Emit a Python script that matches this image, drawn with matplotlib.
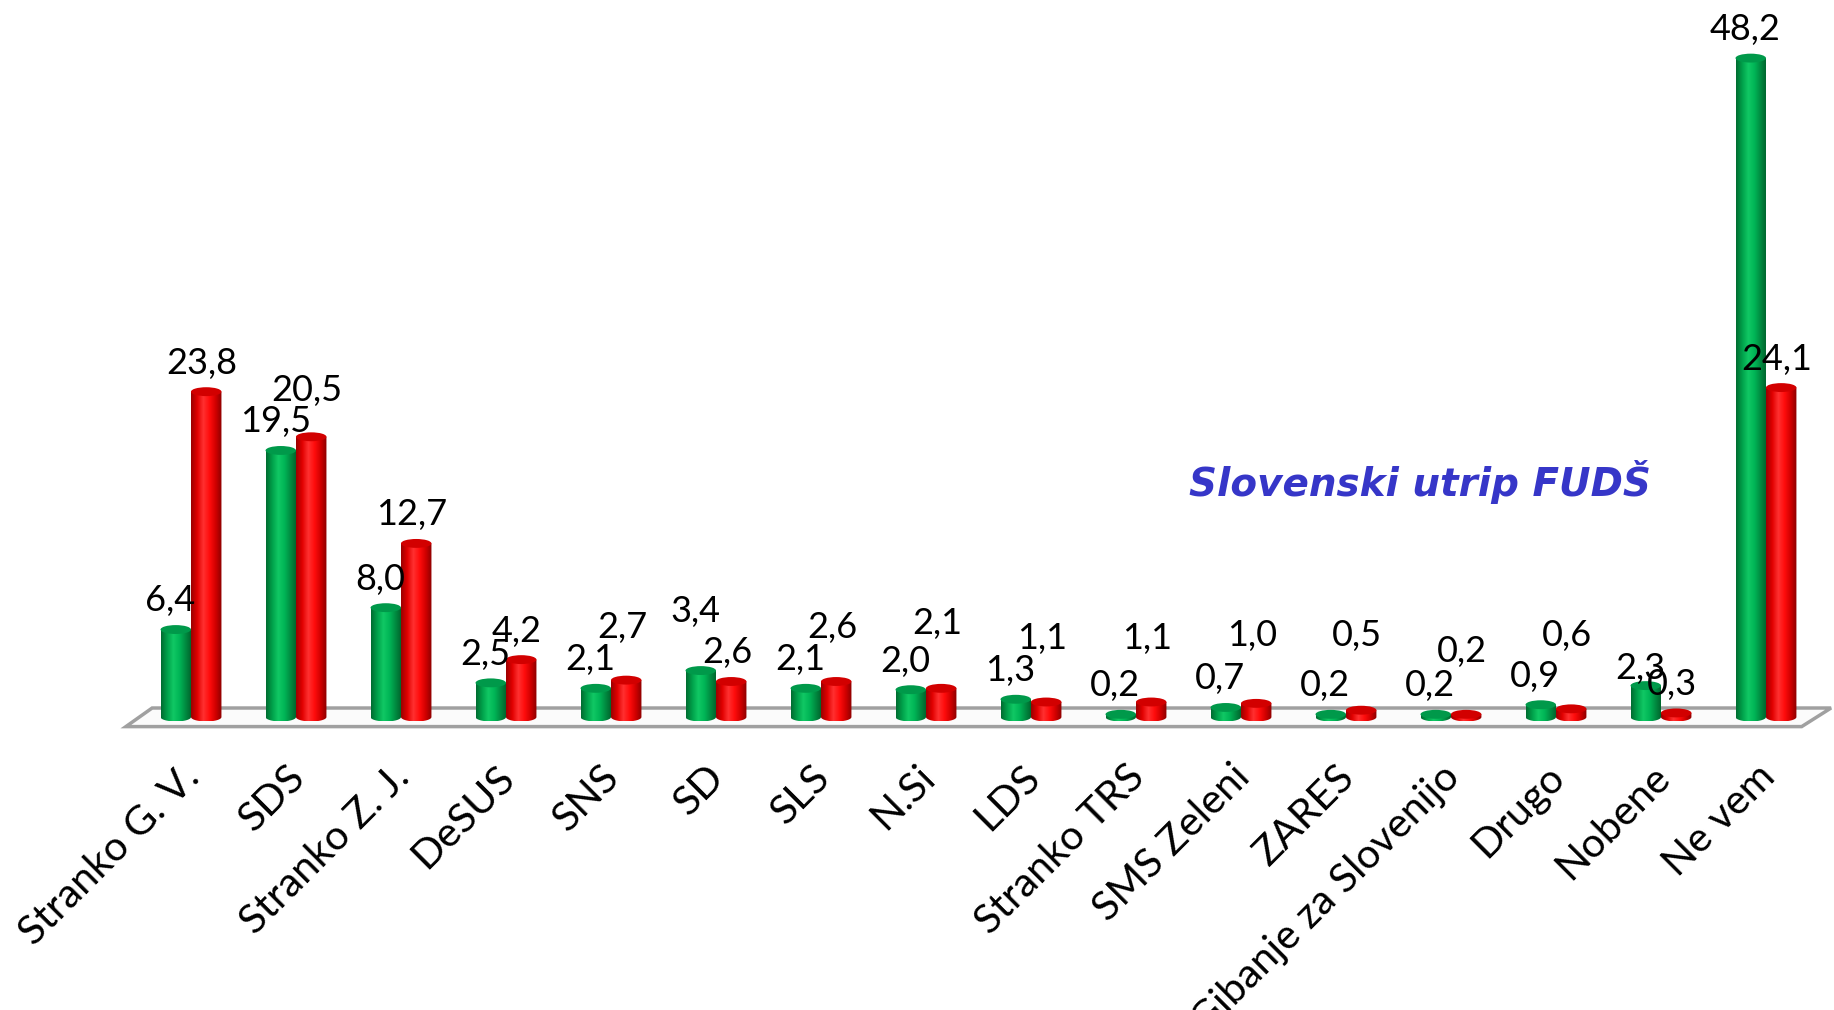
import numpy as np
import matplotlib
matplotlib.use('Agg')
import matplotlib.pyplot as plt
from matplotlib.patches import Ellipse, Polygon
from matplotlib.colors import LinearSegmentedColormap

#the data (two polls, green and red)
categories=['Stranko G. V.','SDS','Stranko Z. J.','DeSUS','SNS','SD','SLS','N.Si','LDS',
            'Stranko TRS','SMS Zeleni','ZARES','Gibanje za Slovenijo','Drugo','Nobene','Ne vem']
green_vals=[6.4,19.5,8.0,2.5,2.1,3.4,2.1,2.0,1.3,0.2,0.7,0.2,0.2,0.9,2.3,48.2]
red_vals=[23.8,20.5,12.7,4.2,2.7,2.6,2.6,2.1,1.1,1.1,1.0,0.5,0.2,0.6,0.3,24.1]

#extra lift of some value labels (points), like the manual moves in the original
green_lift=[0,0,0,0,0,22,0,0,0,0,0,0,0,0,-8,0]
red_lift=[0,13,0,0,17,0,18,26,25,25,28,33,25,32,0,0]

plt.rcParams['font.family']=['Lato','DejaVu Sans']

fig=plt.figure(figsize=(18.34,10.10),dpi=100)
ax=fig.add_axes([0,0,1,1])
ax.axis('off')

x=np.arange(len(categories))
w=0.29
cap_h=0.65

green_cmap=LinearSegmentedColormap.from_list('g',['#006b30','#00a04a','#10c864','#00b556','#008a40','#005f2a'])
red_cmap=LinearSegmentedColormap.from_list('r',['#9a0000','#e00000','#ff3030','#ff0c0c','#d00000','#8a0000'])
grad=np.linspace(0,1,256).reshape(1,-1)

#floor of the 3d chart
floor=Polygon([(-0.62,-0.70),(15.34,-0.70),(15.62,0.66),(-0.37,0.66)],closed=True,
              facecolor='#fbfbfb',edgecolor='#a0a0a0',lw=2.5,zorder=1)
ax.add_patch(floor)

def cylinders(xs,vals,cmap,cap_color,lift,dx):
    bars=ax.bar(xs,vals,width=w,color=cap_color,zorder=2,linewidth=0)
    for b,v,l in zip(bars,vals,lift):
        x0=b.get_x()
        x1=x0+b.get_width()
        xc=(x0+x1)/2
        t=np.linspace(np.pi,2*np.pi,40)
        bottom=[(xc+w/2*np.cos(a),cap_h/2*np.sin(a)) for a in t]
        verts=[(x0,v)]+bottom+[(x1,v)]
        clip=Polygon(verts,closed=True,facecolor='none',edgecolor='none')
        ax.add_patch(clip)
        im=ax.imshow(grad,cmap=cmap,extent=(x0,x1,-cap_h/2,v),aspect='auto',zorder=3)
        im.set_clip_path(clip)
        ax.add_patch(Ellipse((xc,v),w,cap_h,facecolor=cap_color,edgecolor='none',zorder=4))
        lab=('%.1f'%v).replace('.',',')
        ax.annotate(lab,(xc,v),xytext=(dx,13+l),textcoords='offset points',
                    ha='center',va='baseline',fontsize=26,color='black',zorder=6)

cylinders(x-w/2,green_vals,green_cmap,'#00994a',green_lift,-4)
cylinders(x+w/2,red_vals,red_cmap,'#d20000',red_lift,-3)

#category labels
for i,c in enumerate(categories):
    ax.text(i-0.1,-3.0,c,rotation=45,rotation_mode='anchor',ha='right',va='top',
            fontsize=29.5,color='black')

ax.text(11.70,17.2,'Slovenski utrip FUDŠ',ha='center',va='center',fontsize=28,
        color='#3636c8',fontweight='bold',style='italic',family='DejaVu Sans')

ax.set_xlim(-1.819,15.648)
ax.set_ylim(-21.43,52.45)
plt.savefig('out.png',dpi=100)
